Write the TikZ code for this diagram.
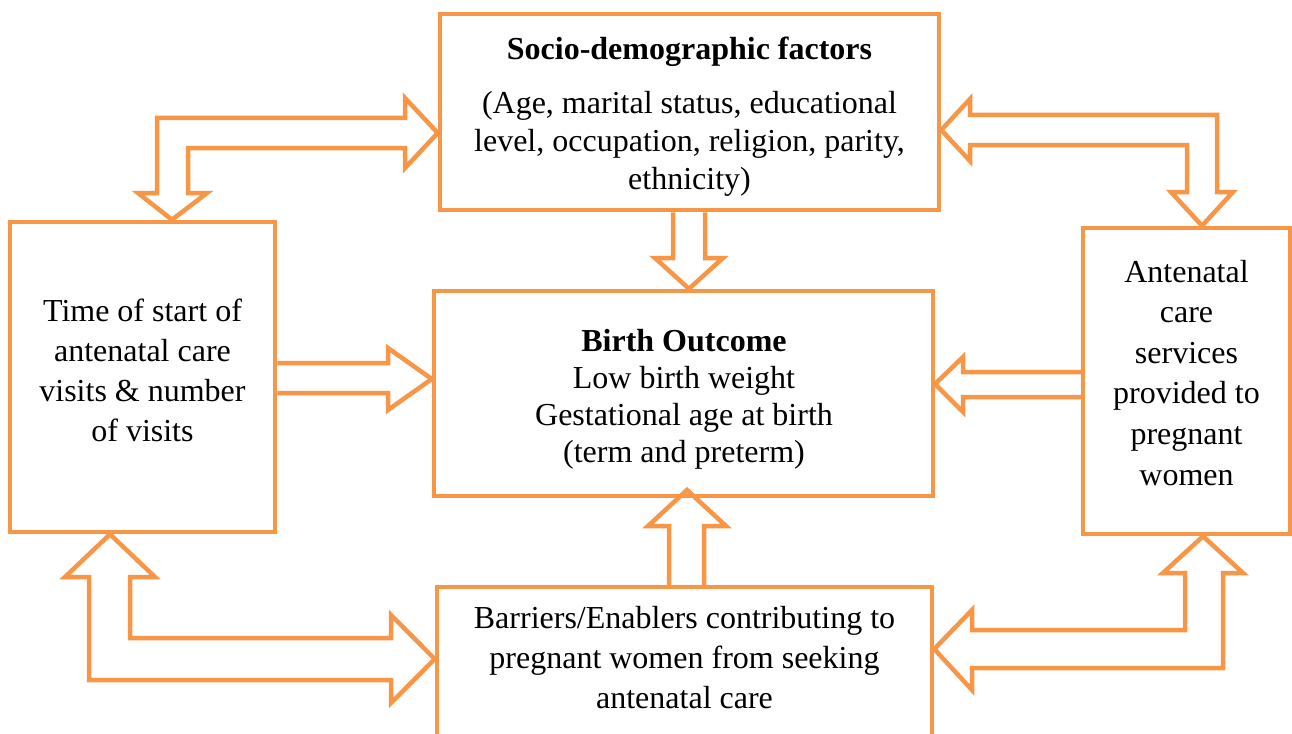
\documentclass[tikz,border=0pt]{standalone}
\usepackage{fontspec}
\setmainfont{Liberation Serif}
\usepackage{tikz}
\usetikzlibrary{positioning,calc}
\definecolor{ancorange}{HTML}{F79646}

\begin{document}
\begin{tikzpicture}[x=1pt, y=-1pt,
    box/.style={draw=ancorange, line width=4.5pt, inner sep=0pt},
    blockarrow/.style={draw=ancorange, line width=4.5pt, line join=miter},
    txt/.style={align=center, anchor=base, inner sep=0pt, font=\fontsize{32}{40}\selectfont},
    tight/.style={font=\fontsize{32}{38}\selectfont}]
        \useasboundingbox (0,0) rectangle (1292,733);
        \clip (0,0) rectangle (1292,733);
        % boxes
        \node[box, minimum width=499, minimum height=196] (socio) at (689.5,112) {};
        \node[box, minimum width=265, minimum height=310] (time) at (142.5,377) {};
        \node[box, minimum width=499, minimum height=205] (birth) at (683.5,393.5) {};
        \node[box, minimum width=207, minimum height=306] (anc) at (1186.5,381) {};
        \node[box, minimum width=495, minimum height=170] (barr) at (684.5,672) {};
        % texts (base = last line)
        \node[txt, tight] (sociotext) at (689.5,189) {\textbf{Socio-demographic factors}\\[16pt]
          (Age, marital status, educational\\ level, occupation, religion, parity,\\ ethnicity)};
        \node[txt] (timetext) at (142.5,441) {Time of start of\\ antenatal care\\ visits \& number\\ of visits};
        \node[txt, font=\fontsize{32}{37}\selectfont] (birthtext) at (684,462) {\textbf{Birth Outcome}\\ Low birth weight\\
          Gestational age at birth\\ (term and preterm)};
        \node[txt, font=\fontsize{32}{40.6}\selectfont] (anctext) at (1186.5,485) {Antenatal\\ care\\ services\\ provided to\\ pregnant\\ women};
        \node[txt] (barrtext) at (684.5,708) {Barriers/Enablers contributing to\\ pregnant women from seeking\\ antenatal care};
        % elbow arrows
        \draw[blockarrow] (172,0 |- time.north) -- (138,193) -- (157,193) -- (157,118) -- (405,118) -- (405,98)
          -- (socio.west |- 0,133) -- (405,168) -- (405,148) -- (188,148) -- (188,193) -- (207,193) -- cycle;
        \draw[blockarrow] (socio.east |- 0,130) -- (970,99) -- (970,115) -- (1217,115) -- (1217,192) -- (1233,192)
          -- (1202,0 |- anc.north) -- (1171,192) -- (1187,192) -- (1187,145) -- (970,145) -- (970,161) -- cycle;
        \draw[blockarrow] (110,0 |- time.south) -- (155,577) -- (130,577) -- (130,638) -- (391,638) -- (391,615)
          -- (barr.west |- 0,659) -- (391,703) -- (391,680) -- (89,680) -- (89,577) -- (65,577) -- cycle;
        \draw[blockarrow] (1203,0 |- anc.south) -- (1243,573) -- (1223,573) -- (1223,668) -- (972,668) -- (972,690)
          -- (barr.east |- 0,649) -- (972,610) -- (972,630) -- (1185,630) -- (1185,573) -- (1163,573) -- cycle;
        % straight arrows
        \draw[blockarrow] (673,0 |- socio.south) -- (673,258) -- (655,258) -- (689,0 |- birth.north)
          -- (723,258) -- (705,258) -- (705,0 |- socio.south);
        \draw[blockarrow] (669,0 |- barr.north) -- (669,526) -- (648,526) -- (687,490)
          -- (726,526) -- (704,526) -- (704,0 |- barr.north);
        \draw[blockarrow] (time.east |- 0,363) -- (388,363) -- (388,348) -- (birth.west |- 0,379)
          -- (388,410) -- (388,393) -- (time.east |- 0,393);
        \draw[blockarrow] (anc.west |- 0,372) -- (963,372) -- (963,357) -- (935,384)
          -- (963,412) -- (963,397) -- (anc.west |- 0,397);
      \end{tikzpicture}
\end{document}
